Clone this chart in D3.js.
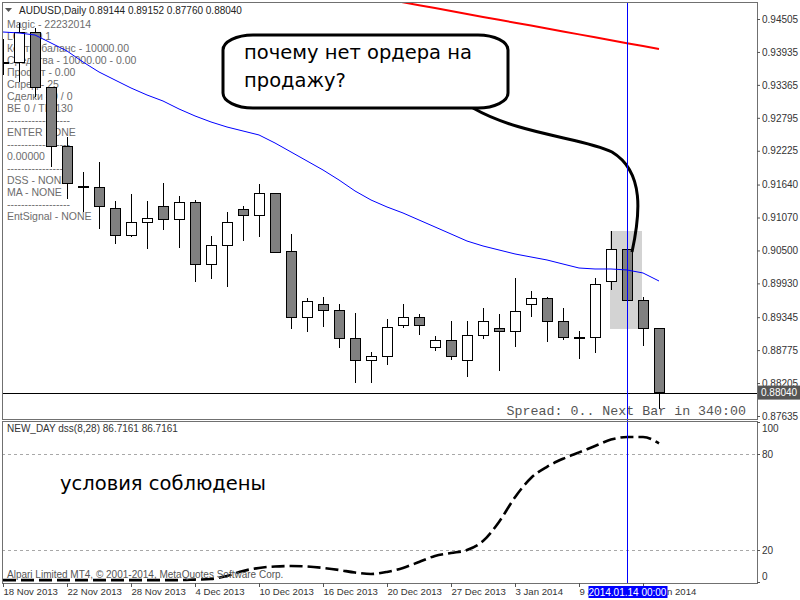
<!DOCTYPE html>
<html>
<head>
<meta charset="utf-8">
<script src="https://cdn.jsdelivr.net/npm/d3@7"></script>
<style>
  body { margin: 0; background: #fff; }
  svg { display: block; font-family: "Liberation Sans", Arial, sans-serif; }
</style>
</head>
<body>
<script>
// daily bars, AUDUSD
const dates = [
  "2013.11.18", "2013.11.19", "2013.11.20", "2013.11.21", "2013.11.22", "2013.11.25", "2013.11.26",
  "2013.11.27", "2013.11.28", "2013.11.29", "2013.12.02", "2013.12.03", "2013.12.04", "2013.12.05",
  "2013.12.06", "2013.12.09", "2013.12.10", "2013.12.11", "2013.12.12", "2013.12.13", "2013.12.16",
  "2013.12.17", "2013.12.18", "2013.12.19", "2013.12.20", "2013.12.23", "2013.12.24", "2013.12.26",
  "2013.12.27", "2013.12.30", "2013.12.31", "2014.01.02", "2014.01.03", "2014.01.06", "2014.01.07",
  "2014.01.08", "2014.01.09", "2014.01.10", "2014.01.13", "2014.01.14", "2014.01.15", "2014.01.16"
];
const opens = [
  0.93750, 0.93744, 0.94280, 0.93311, 0.92307, 0.91615, 0.91581, 0.91234, 0.90767, 0.90975,
  0.91269, 0.91027, 0.91338, 0.90265, 0.90594, 0.91200, 0.91096, 0.91477, 0.90473, 0.89348,
  0.89573, 0.89469, 0.88968, 0.88587, 0.88656, 0.89193, 0.89331, 0.88812, 0.88933, 0.88604,
  0.89020, 0.89141, 0.89089, 0.89573, 0.89660, 0.89262, 0.88995, 0.88985, 0.89971, 0.90508,
  0.89642, 0.89144
];
const highs = [
  0.94159, 0.94436, 0.94349, 0.93311, 0.92463, 0.91858, 0.92031, 0.91356, 0.91477, 0.91356,
  0.91667, 0.91442, 0.91373, 0.90750, 0.91165, 0.91269, 0.91650, 0.91494, 0.90785, 0.89677,
  0.89694, 0.89573, 0.89418, 0.88743, 0.89314, 0.89573, 0.89400, 0.89020, 0.89279, 0.89279,
  0.89504, 0.89400, 0.90023, 0.89798, 0.89694, 0.89504, 0.89106, 0.90023, 0.90837, 0.90508,
  0.89694, 0.89152
];
const lows = [
  0.93536, 0.93415, 0.93155, 0.91944, 0.91390, 0.91165, 0.90871, 0.90612, 0.90733, 0.90525,
  0.90854, 0.90542, 0.89954, 0.90006, 0.89867, 0.90663, 0.90733, 0.90456, 0.89141, 0.89089,
  0.89175, 0.88812, 0.88206, 0.88206, 0.88518, 0.89158, 0.89037, 0.88760, 0.88604, 0.88310,
  0.88968, 0.88414, 0.88829, 0.89348, 0.88916, 0.88950, 0.88622, 0.88725, 0.89816, 0.89642,
  0.88846, 0.87760
];
const closes = [
  0.93744, 0.94280, 0.93311, 0.92290, 0.91667, 0.91581, 0.91252, 0.90767, 0.90975, 0.91061,
  0.91027, 0.91338, 0.90265, 0.90594, 0.90992, 0.91096, 0.91477, 0.90456, 0.89348, 0.89608,
  0.89469, 0.88968, 0.88587, 0.88656, 0.89175, 0.89331, 0.89193, 0.88933, 0.88673, 0.89020,
  0.89262, 0.89089, 0.89435, 0.89660, 0.89262, 0.89002, 0.88985, 0.89919, 0.90508, 0.89642,
  0.89141, 0.88040
];
// blue moving average
const maFast = [
  0.94280, 0.94263, 0.94228, 0.94090, 0.93951, 0.93761, 0.93588, 0.93449, 0.93311, 0.93190,
  0.93086, 0.92948, 0.92827, 0.92723, 0.92636, 0.92567, 0.92498, 0.92359, 0.92204, 0.92048,
  0.91892, 0.91719, 0.91529, 0.91373, 0.91252, 0.91148, 0.91027, 0.90906, 0.90785, 0.90663,
  0.90577, 0.90508, 0.90439, 0.90387, 0.90335, 0.90265, 0.90196, 0.90179, 0.90179, 0.90162,
  0.90110, 0.89971
];
// red moving average (off the top of the chart for the early bars)
const maSlow = [
  null, null, null, null, null, null, null, null, null, null,
  null, null, null, null, null, null, null, null, null, null,
  null, null, 0.94946, 0.94896, 0.94845, 0.94794, 0.94744, 0.94694, 0.94643, 0.94592,
  0.94541, 0.94491, 0.94441, 0.94391, 0.94339, 0.94289, 0.94239, 0.94188, 0.94138, 0.94086,
  0.94036, 0.93986
];
// NEW_DAY dss(8,28)
const dss = [
  1.2, 1.2, 1.2, 1.2, 1.2, 1.2, 1.2, 1.2, 1.2, 1.2,
  1.2, 1.2, 1.5, 1.9, 3.8, 6.9, 8.8, 9.7, 10.0, 9.7,
  8.8, 7.5, 5.9, 5.0, 6.3, 8.8, 12.5, 16.3, 18.1, 20.0,
  25.6, 37.5, 53.0, 65.0, 72.0, 77.0, 81.0, 85.0, 89.0, 90.6,
  90.6, 86.7161
];
const priceTicks = [0.94505, 0.93935, 0.93365, 0.92795, 0.92225, 0.91640, 0.91070,
  0.90500, 0.89930, 0.89345, 0.88775, 0.88205, 0.87635];
const dssTicks = [100, 80, 20, 0];
const dssLevels = [80, 20];
const infoLines = [
  "Magic - 22232014", "LOT - 0.1", "Контр. баланс - 10000.00", "Средства - 10000.00 - 0.00",
  "Профит - 0.00", "Спред - 25", "Сделки - 0 / 0", "BE 0 / TR 130", "------------------",
  "ENTER NONE", "------------------", "0.00000", "------------------", "DSS - NONE",
  "MA - NONE", "------------------", "EntSignal - NONE"
];

const left = 2, right = 757;
const mainTop = 2, mainBottom = 419, subTop = 421, subBottom = 583;
const crossBar = 39; // 14 Jan
const lastBar = dates.length - 1;

const parseDate = d3.timeParse("%Y.%m.%d");
const fmtAxis = d3.timeFormat("%-d %b %Y");
const fmtCross = d3.timeFormat("%Y.%m.%d %H:%M");

const svg = d3.select("body").append("svg").attr("width", 800).attr("height", 600);

const x = d3.scaleLinear().domain([0, lastBar]).range([3, 659]);
const y = d3.scaleLinear().domain([0.87635, 0.94505]).range([416, 19]);
const y2 = d3.scaleLinear().domain([0, 100]).range([582, 422]);

const defs = svg.append("defs");
defs.append("clipPath").attr("id", "clipMain")
  .append("rect").attr("x", left).attr("y", mainTop).attr("width", right - left).attr("height", mainBottom - mainTop);
defs.append("clipPath").attr("id", "clipSub")
  .append("rect").attr("x", left).attr("y", subTop).attr("width", right - left).attr("height", subBottom - subTop);

const main = svg.append("g").attr("clip-path", "url(#clipMain)");
const sub = svg.append("g").attr("clip-path", "url(#clipSub)");

// header + info labels (candles are drawn over them)
main.append("path").attr("d", "M5,8 L12,8 L8.5,12 Z").attr("fill", "#555");
main.append("text").attr("x", 19).attr("y", 14).attr("font-size", "10px").attr("fill", "#222")
  .text("AUDUSD,Daily  " + [opens[lastBar], highs[lastBar], lows[lastBar], closes[lastBar]].map(d => d.toFixed(5)).join(" "));
main.append("g").selectAll("text").data(infoLines).enter().append("text")
  .attr("x", 7).attr("y", (d, i) => 24 + i * 12).attr("dy", "0.35em")
  .attr("font-size", "10.5px").attr("fill", "#6d6d6d").text(d => d);

// highlight box around the two bars
main.append("rect")
  .attr("x", x(38) - 1).attr("y", y(0.90837))
  .attr("width", x(40) - x(38)).attr("height", y(0.89141) - y(0.90837))
  .attr("fill", "#d3d3d3");

// candles
const idx = d3.range(dates.length);
const candles = main.append("g").attr("shape-rendering", "crispEdges");
candles.selectAll("line").data(idx).enter().append("line")
  .attr("x1", i => x(i) + 0.5).attr("x2", i => x(i) + 0.5)
  .attr("y1", i => y(highs[i])).attr("y2", i => y(lows[i]))
  .attr("stroke", "#000");
candles.selectAll("rect").data(idx).enter().append("rect")
  .attr("x", i => x(i) - 4.5)
  .attr("y", i => y(Math.max(opens[i], closes[i])))
  .attr("width", 10)
  .attr("height", i => Math.max(1, Math.abs(y(opens[i]) - y(closes[i]))))
  .attr("fill", i => closes[i] > opens[i] ? "#fff" : "#808080")
  .attr("stroke", "#000");

// moving averages
main.append("path").datum(idx)
  .attr("fill", "none").attr("stroke", "#0000ff").attr("stroke-width", 1)
  .attr("d", d3.line().x(i => x(i)).y(i => y(maFast[i])));
main.append("path").datum(idx)
  .attr("fill", "none").attr("stroke", "#ff0000").attr("stroke-width", 2)
  .attr("d", d3.line().defined(i => maSlow[i] !== null).x(i => x(i)).y(i => y(maSlow[i])));

// bid line
main.append("line")
  .attr("x1", left).attr("x2", right)
  .attr("y1", Math.round(y(closes[lastBar])) + 0.5).attr("y2", Math.round(y(closes[lastBar])) + 0.5)
  .attr("stroke", "#000");

main.append("text").attr("x", 746).attr("y", 415).attr("text-anchor", "end")
  .attr("font-family", "'Liberation Mono', 'Courier New', monospace").attr("font-size", "13.3px")
  .attr("fill", "#555").text("Spread: 0.. Next Bar in 340:00");

// callout bubble
main.append("path")
  .attr("d", "M473,108 C520,135 585,138 612,152 C645,172 640,215 632,252")
  .attr("fill", "none").attr("stroke", "#000").attr("stroke-width", 3);
main.append("rect")
  .attr("x", 223).attr("y", 35).attr("width", 285).attr("height", 73)
  .attr("rx", 30).attr("ry", 15)
  .attr("fill", "#fff").attr("stroke", "#000").attr("stroke-width", 3);
main.append("text").attr("font-family", "'DejaVu Sans', sans-serif").attr("font-size", "19.5px")
  .attr("fill", "#000")
  .selectAll("tspan").data(["почему нет ордера на", "продажу?"]).enter().append("tspan")
  .attr("x", 244).attr("y", (d, i) => 59 + i * 28).text(d => d);

// lower panel: levels + dss
sub.selectAll(".level").data(dssLevels).enter().append("line")
  .attr("x1", left).attr("x2", right)
  .attr("y1", d => Math.round(y2(d)) + 0.5).attr("y2", d => Math.round(y2(d)) + 0.5)
  .attr("stroke", "#a8a8a8").attr("stroke-dasharray", "3,3");
sub.append("path").datum(idx)
  .attr("fill", "none").attr("stroke", "#000").attr("stroke-width", 2.6)
  .attr("stroke-dasharray", "13,5")
  .attr("d", d3.line().curve(d3.curveMonotoneX).x(i => x(i)).y(i => y2(dss[i])));
sub.append("text").attr("x", 7).attr("y", 432).attr("font-size", "10px").attr("fill", "#333")
  .text("NEW_DAY dss(8,28) " + dss[lastBar].toFixed(4) + " " + dss[lastBar].toFixed(4));
sub.append("text").attr("x", 60).attr("y", 490).attr("font-family", "'DejaVu Sans', sans-serif")
  .attr("font-size", "19.5px").attr("fill", "#000").text("условия соблюдены");
sub.append("text").attr("x", 7).attr("y", 578).attr("font-size", "10px").attr("fill", "#555")
  .text("Alpari Limited MT4, © 2001-2014, MetaQuotes Software Corp.");

// crosshair
svg.append("line")
  .attr("x1", x(crossBar) + 0.5).attr("x2", x(crossBar) + 0.5)
  .attr("y1", mainTop).attr("y2", subBottom)
  .attr("stroke", "#0000ff");

// frames
const frame = svg.append("g").attr("fill", "none").attr("stroke", "#707070").attr("shape-rendering", "crispEdges");
frame.append("rect").attr("x", left + 0.5).attr("y", mainTop + 0.5).attr("width", right - left).attr("height", mainBottom - mainTop);
frame.append("rect").attr("x", left + 0.5).attr("y", subTop + 0.5).attr("width", right - left).attr("height", subBottom - subTop);

// price axis
svg.append("g").attr("transform", `translate(${right},0)`)
  .call(d3.axisRight(y).tickValues(priceTicks).tickSize(3).tickFormat(d3.format(".5f")))
  .call(g => g.select(".domain").remove())
  .call(g => g.selectAll("line").attr("stroke", "#555"))
  .call(g => g.selectAll("text").attr("x", 5).attr("fill", "#333")
    .attr("font-family", "'Liberation Sans', Arial, sans-serif").attr("font-size", "10px"));

// current price tag
const bidY = y(closes[lastBar]);
svg.append("rect").attr("x", right + 1).attr("y", bidY - 7).attr("width", 42).attr("height", 14).attr("fill", "#555");
svg.append("text").attr("x", right + 4).attr("y", bidY).attr("dy", "0.35em")
  .attr("font-size", "10px").attr("fill", "#fff").text(closes[lastBar].toFixed(5));

// dss axis, end labels kept inside the panel
svg.append("g").attr("transform", `translate(${right},0)`)
  .call(d3.axisRight(y2).tickValues(dssTicks).tickSize(3))
  .call(g => g.select(".domain").remove())
  .call(g => g.selectAll("line").attr("stroke", "#555"))
  .call(g => g.selectAll("text").attr("x", 5).attr("fill", "#333")
    .attr("font-family", "'Liberation Sans', Arial, sans-serif").attr("font-size", "10px")
    .attr("transform", d => `translate(0,${Math.min(576, Math.max(428, y2(d))) - y2(d)})`));

// time axis
svg.append("g").attr("transform", `translate(0,${subBottom})`)
  .call(d3.axisBottom(x).tickValues(d3.range(0, dates.length, 4)).tickSize(4)
    .tickFormat(i => fmtAxis(parseDate(dates[i]))))
  .call(g => g.select(".domain").remove())
  .call(g => g.selectAll("line").attr("stroke", "#555"))
  .call(g => g.selectAll("text").attr("text-anchor", "start").attr("x", 0).attr("y", 4).attr("dy", "0.85em")
    .attr("fill", "#333").attr("font-family", "'Liberation Sans', Arial, sans-serif").attr("font-size", "9.6px"));

// crosshair date tag
const cx = x(crossBar) + 0.5;
svg.append("rect").attr("x", cx - 39).attr("y", 586).attr("width", 79).attr("height", 12).attr("fill", "#0000ff");
svg.append("text").attr("x", cx).attr("y", 595.5).attr("text-anchor", "middle")
  .attr("font-size", "10px").attr("fill", "#fff").text(fmtCross(parseDate(dates[crossBar])));
</script>
</body>
</html>
